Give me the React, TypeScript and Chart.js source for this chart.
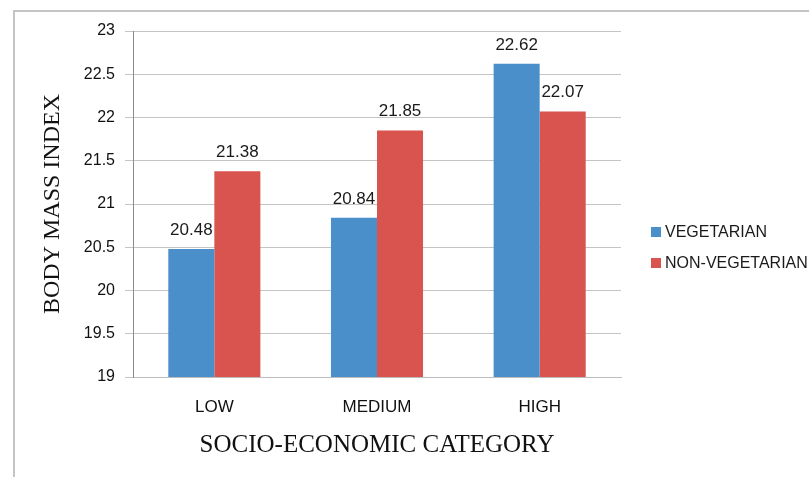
import React, { useEffect, useRef } from "react";
import { Chart, registerables } from "chart.js";

Chart.register(...registerables);

const categories = ["LOW", "MEDIUM", "HIGH"];
const vegetarian = [20.48, 20.84, 22.62];
const nonVegetarian = [21.38, 21.85, 22.07];
const seriesNames = ["VEGETARIAN", "NON-VEGETARIAN"];
const yTitle = "BODY MASS INDEX";
const xTitle = "SOCIO-ECONOMIC CATEGORY";
const yMin = 19;
const yMax = 23;
const yStep = 0.5;

const BLUE = "#4a8fc9";
const RED = "#d9534f";
const SANS = "'Liberation Sans', Arial, sans-serif";
const SERIF = "'Liberation Serif', 'Times New Roman', serif";

const framePlugin = {
  id: "frame",
  beforeDraw(chart: any) {
    const ctx = chart.ctx;
    ctx.save();
    ctx.fillStyle = "#ffffff";
    ctx.fillRect(0, 0, chart.width, chart.height);
    ctx.strokeStyle = "#c4c4c4";
    ctx.lineWidth = 2;
    ctx.beginPath();
    ctx.moveTo(14, chart.height);
    ctx.lineTo(14, 11);
    ctx.lineTo(chart.width, 11);
    ctx.stroke();
    ctx.restore();
  },
};

const valueLabelPlugin = {
  id: "valueLabels",
  afterDatasetsDraw(chart: any) {
    const ctx = chart.ctx;
    ctx.save();
    ctx.font = `17px ${SANS}`;
    ctx.fillStyle = "#1a1a1a";
    ctx.textAlign = "center";
    ctx.textBaseline = "middle";
    chart.data.datasets.forEach((ds: any, di: number) => {
      const meta = chart.getDatasetMeta(di);
      meta.data.forEach((el: any, i: number) => {
        ctx.fillText(Number(ds.data[i]).toFixed(2), el.x, el.y - 19);
      });
    });
    ctx.restore();
  },
};

const legendPlugin = {
  id: "customLegend",
  afterDraw(chart: any) {
    const ctx = chart.ctx;
    ctx.save();
    ctx.font = `16px ${SANS}`;
    ctx.textAlign = "left";
    ctx.textBaseline = "middle";
    const rows = [232, 263];
    chart.data.datasets.forEach((ds: any, i: number) => {
      const y = rows[i];
      ctx.fillStyle = ds.backgroundColor;
      ctx.fillRect(651, y - 5, 10, 10);
      ctx.fillStyle = "#1a1a1a";
      ctx.fillText(ds.label, 665, y + 1);
    });
    ctx.restore();
  },
};

export default function App() {
  const ref = useRef<HTMLCanvasElement | null>(null);

  useEffect(() => {
    if (!ref.current) return;
    const chart = new Chart(ref.current, {
      type: "bar",
      data: {
        labels: categories,
        datasets: [
          {
            label: seriesNames[0],
            data: vegetarian,
            backgroundColor: BLUE,
            categoryPercentage: 0.566,
            barPercentage: 1,
          },
          {
            label: seriesNames[1],
            data: nonVegetarian,
            backgroundColor: RED,
            categoryPercentage: 0.566,
            barPercentage: 1,
          },
        ],
      },
      plugins: [framePlugin, valueLabelPlugin, legendPlugin],
      options: {
        responsive: false,
        animation: false,
        layout: { padding: { top: 31, right: 188, left: 0, bottom: 0 } },
        plugins: {
          legend: { display: false },
          tooltip: { enabled: false },
          title: { display: false },
        },
        scales: {
          x: {
            grid: { display: false, drawTicks: false },
            border: { color: "#bdbdbd", width: 1 },
            ticks: {
              color: "#111",
              font: { family: SANS, size: 17 },
              padding: 20,
            },
            title: {
              display: true,
              text: xTitle,
              color: "#111",
              font: { family: SERIF, size: 25 },
              padding: { top: 0, bottom: 17 },
            },
            afterFit(s: any) {
              s.height = 100;
            },
          },
          y: {
            min: yMin,
            max: yMax,
            grid: { color: "#c4c4c4", tickLength: 8, lineWidth: 1 },
            border: { color: "#8c8c8c", width: 1 },
            ticks: {
              stepSize: yStep,
              color: "#111",
              font: { family: SANS, size: 16 },
              padding: 10,
              callback: (v: any) => String(v),
            },
            title: {
              display: true,
              text: yTitle,
              color: "#111",
              font: { family: SERIF, size: 24 },
              padding: { top: 38, bottom: 0 },
            },
            afterFit(s: any) {
              s.width = 133;
            },
          },
        },
      },
    });
    return () => chart.destroy();
  }, []);

  return (
    <canvas
      ref={ref}
      width={809}
      height={477}
      style={{ position: "absolute", left: 0, top: 0, width: 809, height: 477 }}
    />
  );
}
